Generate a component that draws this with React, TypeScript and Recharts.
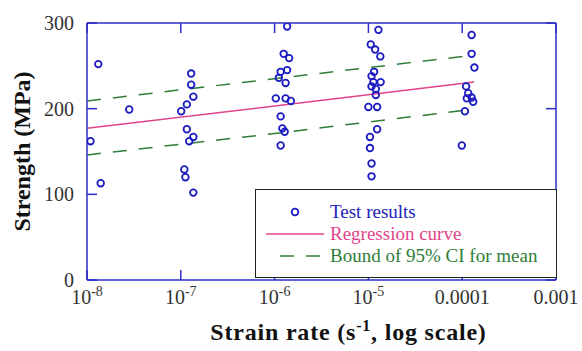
import React from "react";
import { ComposedChart, Scatter, Line, XAxis, YAxis, Legend, Label } from "recharts";

// measured strain rates (1/s) and strengths (MPa) of the test specimens
const testRate = [
  1.32e-8, 1.09e-8, 1.4e-8, 2.82e-8,
  1.29e-7, 1.29e-7, 1.36e-7, 1.16e-7, 1.01e-7, 1.16e-7, 1.36e-7, 1.23e-7, 1.09e-7, 1.12e-7, 1.36e-7,
  1.36e-6, 1.25e-6, 1.43e-6, 1.36e-6, 1.16e-6, 1.11e-6, 1.31e-6, 1.03e-6, 1.31e-6, 1.49e-6, 1.16e-6, 1.21e-6, 1.28e-6, 1.16e-6,
  1.28e-5, 1.06e-5, 1.18e-5, 1.34e-5, 1.15e-5, 1.08e-5, 1.13e-5, 1.35e-5, 1.08e-5, 1.2e-5, 1.2e-5, 1.0e-5, 1.24e-5, 1.24e-5, 1.04e-5, 1.04e-5, 1.08e-5, 1.08e-5,
  1.26e-4, 1.26e-4, 1.35e-4, 1.1e-4, 1.16e-4, 1.12e-4, 1.26e-4, 1.31e-4, 1.07e-4, 0.99e-4,
];
const testStrength = [
  252, 162, 113, 199,
  241, 228, 214, 205, 197, 176, 167, 162, 129, 120, 102,
  296, 264, 259, 245, 243, 236, 230, 212, 212, 209, 191, 177, 173, 157,
  292, 275, 269, 261, 243, 238, 231, 231, 226, 223, 216, 202, 202, 176, 167, 154, 136, 121,
  286, 264, 248, 226, 218, 212, 213, 208, 197, 157,
];

// fitted curves
const fitRate = [1e-8, 1e-6, 1.34e-4];
const regression = [177, 203, 231];
const upperCI = [209, 235, 262.5];
const lowerCI = [146, 171, 199.5];

const xTicks = [1e-8, 1e-7, 1e-6, 1e-5, 1e-4, 1e-3];
const xTickLabels: [string, string][] = [
  ["10", "-8"], ["10", "-7"], ["10", "-6"], ["10", "-5"], ["0.0001", ""], ["0.001", ""],
];
const yTicks = [0, 100, 200, 300];

const testData = testRate.map((x, i) => ({ x, y: testStrength[i] }));
const regData = fitRate.map((x, i) => ({ x, y: regression[i] }));
const upperData = fitRate.map((x, i) => ({ x, y: upperCI[i] }));
const lowerData = fitRate.map((x, i) => ({ x, y: lowerCI[i] }));

const AXIS = "#2d2dc8";
const DOT = "#1c1cc0";
const PINK = "#e2458a";
const GREEN = "#2f7d38";
const FONT = "'Liberation Serif', 'Times New Roman', serif";
const TXT = "#333";

const BottomTick = (props: any) => {
  const { x, y, index } = props;
  const [base, exp] = xTickLabels[index] ?? ["", ""];
  return (
    <g>
      <line x1={x} x2={x} y1={y} y2={y - 10} stroke={AXIS} strokeWidth={1.5} />
      <text x={x} y={y + 24} textAnchor="middle" fontFamily={FONT} fontSize={20} fill={TXT}>
        {base}
        {exp && <tspan dy={-8} fontSize={14}>{exp}</tspan>}
      </text>
    </g>
  );
};

const TopTick = (props: any) => {
  const { x, y } = props;
  return <line x1={x} x2={x} y1={y} y2={y + 10} stroke={AXIS} strokeWidth={1.5} />;
};

const LeftTick = (props: any) => {
  const { x, y, payload } = props;
  return (
    <g>
      <line x1={x} x2={x + 10} y1={y} y2={y} stroke={AXIS} strokeWidth={1.5} />
      <text x={x - 13} y={y + 7} textAnchor="end" fontFamily={FONT} fontSize={20} fill={TXT}>
        {payload.value}
      </text>
    </g>
  );
};

const RightTick = (props: any) => {
  const { x, y } = props;
  return <line x1={x} x2={x - 10} y1={y} y2={y} stroke={AXIS} strokeWidth={1.5} />;
};

const Ring = (props: any) => (
  <circle cx={props.cx} cy={props.cy} r={3.3} fill="none" stroke={DOT} strokeWidth={1.8} />
);

const XTitle = (props: any) => {
  const { x, y, width } = props.viewBox;
  return (
    <text x={x + width / 2 + 27} y={y + 60} textAnchor="middle" fontFamily={FONT} fontSize={24} fontWeight="bold"
      letterSpacing={0.8} fill="#111">
      Strain rate (s<tspan dy={-9} fontSize={16}>-1</tspan>
      <tspan dy={9}>, log scale)</tspan>
    </text>
  );
};

const YTitle = (props: any) => {
  const { x, y, height } = props.viewBox;
  const cx = x + 22;
  const cy = y + height / 2;
  return (
    <text x={cx} y={cy} transform={`rotate(-90 ${cx} ${cy})`} textAnchor="middle" dominantBaseline="central"
      fontFamily={FONT} fontSize={24} fontWeight="bold" fill="#111">
      Strength (MPa)
    </text>
  );
};

const LegendBox = () => {
  const row = { display: "flex", alignItems: "center", height: 22 } as const;
  const label = { fontFamily: FONT, fontSize: 19, marginLeft: 6 };
  return (
    <div style={{ border: "1.5px solid #222", background: "#fff", width: "100%", height: "100%", boxSizing: "border-box", paddingTop: 11 }}>
      <div style={row}>
        <svg width={68} height={22}>
          <circle cx={39} cy={11} r={3.3} fill="none" stroke={DOT} strokeWidth={1.8} />
        </svg>
        <span style={{ ...label, color: "#2222b8" }}>Test results</span>
      </div>
      <div style={row}>
        <svg width={68} height={22}>
          <line x1={10} x2={68} y1={11} y2={11} stroke={PINK} strokeWidth={1.5} />
        </svg>
        <span style={{ ...label, color: PINK }}>Regression curve</span>
      </div>
      <div style={row}>
        <svg width={68} height={22}>
          <line x1={24} x2={68} y1={11} y2={11} stroke={GREEN} strokeWidth={1.5} strokeDasharray="14 12" />
        </svg>
        <span style={{ ...label, color: GREEN }}>Bound of 95% CI for mean</span>
      </div>
    </div>
  );
};

export default function App() {
  return (
    <div style={{ position: "absolute", left: 0, top: 0, background: "#fff" }}>
      <ComposedChart width={582} height={351} margin={{ top: 22, right: 25, bottom: 0, left: 0 }}>
        <XAxis type="number" dataKey="x" scale="log" domain={[1e-8, 1e-3]} ticks={xTicks} allowDataOverflow
          height={71} tickSize={0} tickMargin={0} tickLine={false} tick={<BottomTick />} interval={0}
          axisLine={{ stroke: AXIS, strokeWidth: 1.5 }}>
          <Label content={<XTitle />} />
        </XAxis>
        <XAxis xAxisId="top" orientation="top" type="number" dataKey="x" scale="log" domain={[1e-8, 1e-3]} ticks={xTicks}
          allowDataOverflow height={1} tickSize={0} tickMargin={0} tickLine={false} tick={<TopTick />} interval={0}
          axisLine={{ stroke: AXIS, strokeWidth: 1.5 }} />
        <YAxis type="number" dataKey="y" domain={[0, 300]} ticks={yTicks} allowDataOverflow width={87}
          tickSize={0} tickMargin={0} tickLine={false} tick={<LeftTick />} interval={0}
          axisLine={{ stroke: AXIS, strokeWidth: 1.5 }}>
          <Label content={<YTitle />} />
        </YAxis>
        <YAxis yAxisId="right" orientation="right" type="number" dataKey="y" domain={[0, 300]} ticks={yTicks}
          allowDataOverflow width={1} tickSize={0} tickMargin={0} tickLine={false} tick={<RightTick />} interval={0}
          axisLine={{ stroke: AXIS, strokeWidth: 1.5 }} />
        <Line data={upperData} dataKey="y" type="linear" stroke={GREEN} strokeWidth={1.5} strokeDasharray="14 12"
          dot={false} isAnimationActive={false} />
        <Line data={lowerData} dataKey="y" type="linear" stroke={GREEN} strokeWidth={1.5} strokeDasharray="14 12"
          dot={false} isAnimationActive={false} />
        <Line data={regData} dataKey="y" type="linear" stroke={PINK} strokeWidth={1.5}
          dot={false} isAnimationActive={false} />
        <Scatter data={testData} dataKey="y" shape={<Ring />} isAnimationActive={false} />
        <Legend layout="horizontal" verticalAlign="middle" align="center" content={<LegendBox />}
          wrapperStyle={{ position: "absolute", left: 255, top: 189, width: 302, height: 89 }} />
      </ComposedChart>
    </div>
  );
}
